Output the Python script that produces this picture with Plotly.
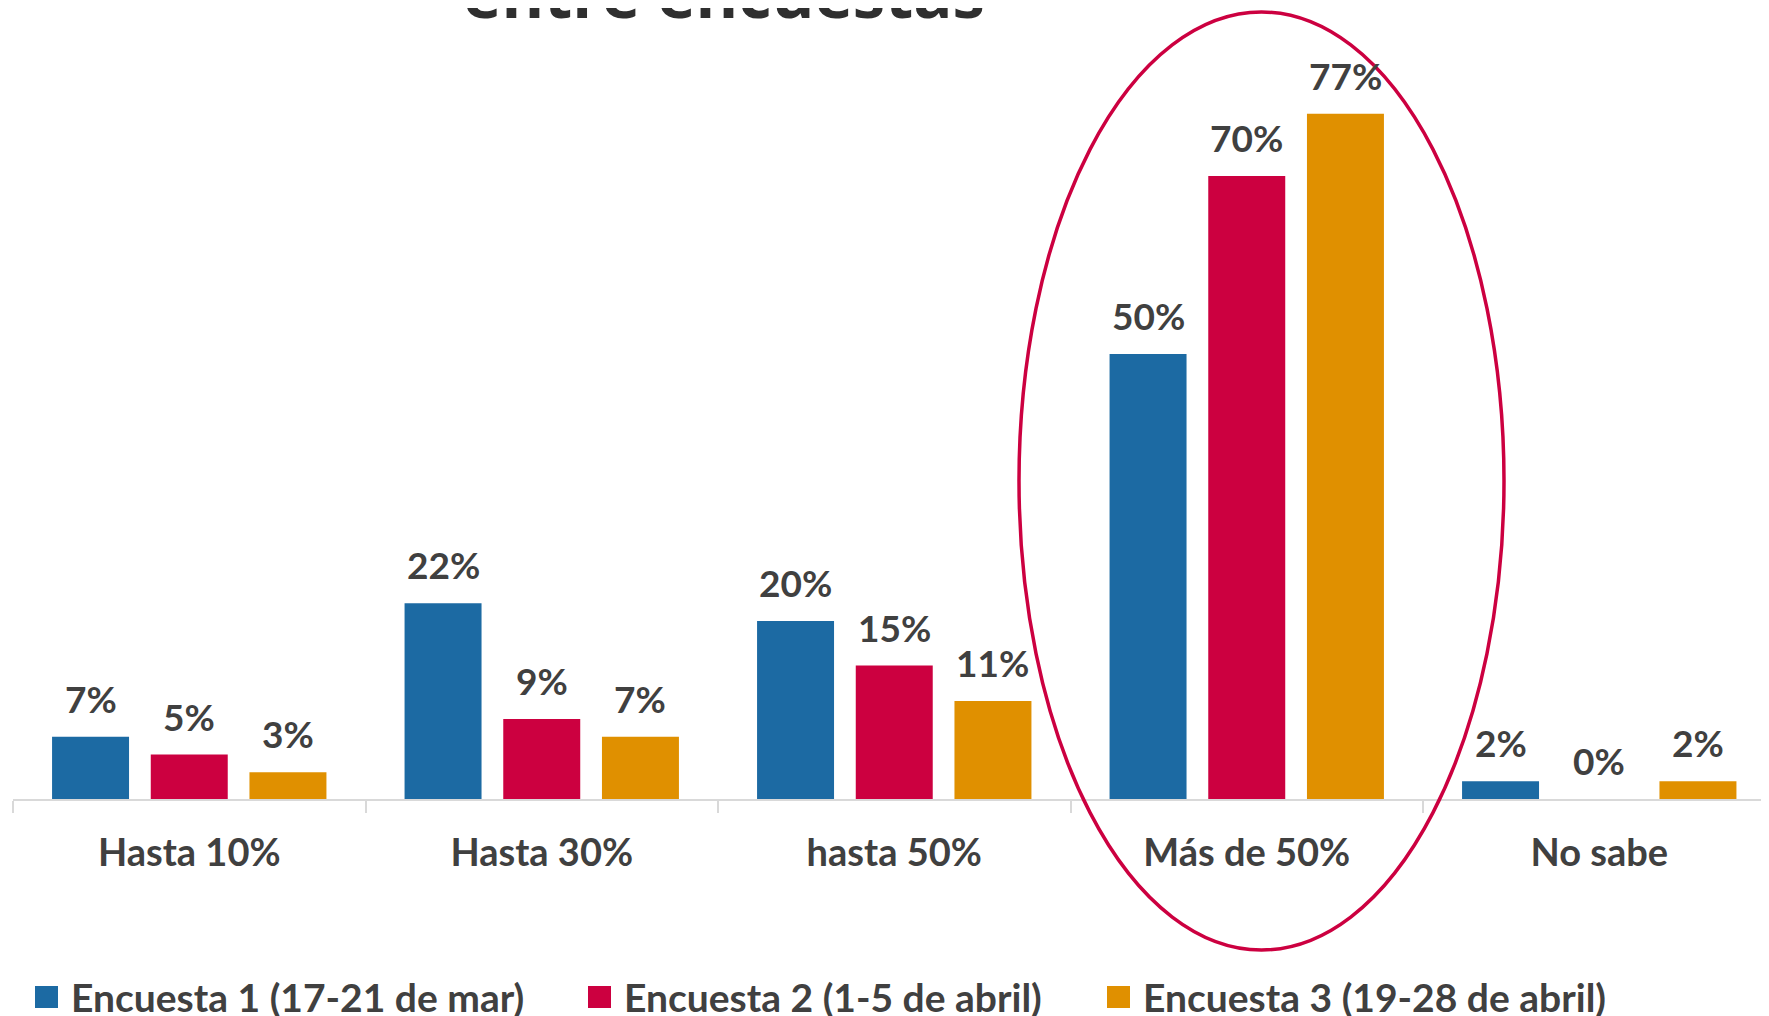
import plotly.graph_objects as go

categories = ["Hasta 10%", "Hasta 30%", "hasta 50%", "Más de 50%", "No sabe"]
series_names = ["Encuesta 1 (17-21 de mar)", "Encuesta 2 (1-5 de abril)", "Encuesta 3 (19-28 de abril)"]
encuesta1 = [7, 22, 20, 50, 2]
encuesta2 = [5, 9, 15, 70, 0]
encuesta3 = [3, 7, 11, 77, 2]
colors = ["#1C6AA3", "#CC0040", "#E09000"]
title_text = "entre encuestas"

# page offset (body margin) -> work in page coordinates
OFF = 8
W, H = 1769 - OFF, 1016 - OFF
PLOT_L, PLOT_R = 13, 1768        # page x of plot area
PLOT_T, PLOT_B = OFF, 799         # page y of plot area
ML, MR = PLOT_L - OFF, (W + OFF) - PLOT_R
MT, MB = PLOT_T - OFF, (H + OFF) - PLOT_B
plot_w = PLOT_R - PLOT_L
plot_h = PLOT_B - PLOT_T
PX_PER_PCT = 8.9
CAT_W = 352.5                     # px per category (axis runs past the right edge)
BARGAP, GROUPGAP = 0.16, 0.22


def px(x):
    return (x - PLOT_L) / plot_w


def py(y):
    return (PLOT_B - y) / plot_h


fig = go.Figure()
all_series = [encuesta1, encuesta2, encuesta3]
slot = CAT_W * (1 - BARGAP) / len(all_series)
for i, (name, vals, col) in enumerate(zip(series_names, all_series, colors)):
    fig.add_trace(go.Bar(
        x=categories, y=[v / 100 for v in vals], name=name,
        marker=dict(color=col, line=dict(width=0)),
        showlegend=False,
    ))
    for c, v in zip(categories, vals):
        fig.add_annotation(x=c, y=v / 100, xref="x", yref="y",
                           xshift=(i - 1) * slot, yshift=14,
                           xanchor="center", yanchor="bottom", showarrow=False,
                           text=f"{v}%",
                           font=dict(family="Lato", size=37, color="#404040", weight="bold"))

# manual legend
leg_x = [35, 588, 1107]
for name, col, lx in zip(series_names, colors, leg_x):
    fig.add_shape(type="rect", xref="paper", yref="paper",
                  x0=px(lx), x1=px(lx + 23), y0=py(1008), y1=py(986),
                  fillcolor=col, line=dict(width=0))
    fig.add_annotation(xref="paper", yref="paper",
                       x=px(lx + 34), y=py(997),
                       xanchor="left", yanchor="middle", showarrow=False,
                       text=name,
                       font=dict(family="Lato", size=39, color="#404040", weight="bold"))

# title (cut off at top)
fig.add_annotation(xref="paper", yref="paper", x=px(724), y=1,
                   xanchor="center", yanchor="middle", yshift=15, showarrow=False,
                   text="<b>" + title_text + "</b>",
                   font=dict(family="Open Sans", size=65, color="#2F2F2F"))

# highlight ellipse around "Más de 50%"
fig.add_shape(type="circle", xref="x", yref="paper",
              x0=(1019 - PLOT_L) / CAT_W - 0.5, x1=(1504 - PLOT_L) / CAT_W - 0.5,
              y0=py(950), y1=py(12),
              line=dict(color="#CC0040", width=3.5), fillcolor="rgba(0,0,0,0)")

fig.update_layout(
    width=W, height=H,
    margin=dict(l=ML, r=MR, t=MT, b=MB, pad=0),
    plot_bgcolor="white", paper_bgcolor="white",
    barmode="group", bargap=BARGAP, bargroupgap=GROUPGAP,
    showlegend=False,
)
fig.update_yaxes(range=[0, plot_h / PX_PER_PCT / 100], visible=False, showgrid=False, zeroline=False)
fig.update_xaxes(
    range=[-0.5, -0.5 + plot_w / CAT_W],
    showline=True, linecolor="#D9D9D9", linewidth=1.5,
    ticks="outside", tickson="boundaries", ticklen=12, tickcolor="#D9D9D9", tickwidth=1.5,
    tickfont=dict(family="Lato", size=38, color="#404040", weight="bold"),
    ticklabelstandoff=20,
)

fig.write_html("out.html")
